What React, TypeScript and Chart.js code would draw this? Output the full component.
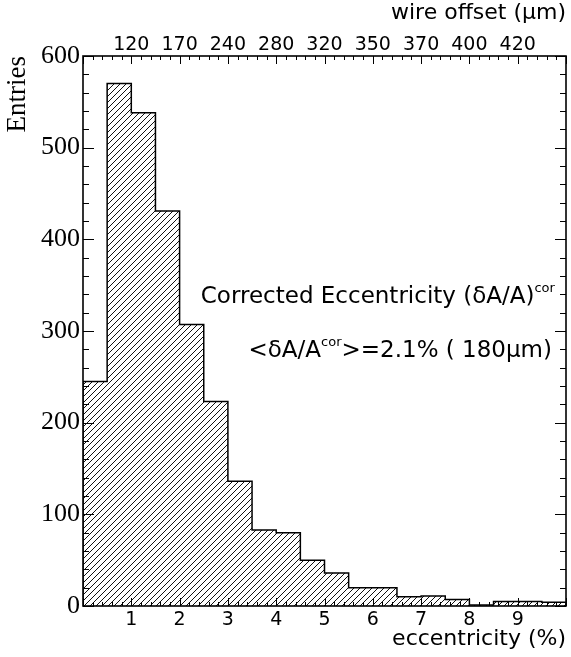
import { useEffect, useRef } from 'react';
import { Chart, registerables } from 'chart.js';

Chart.register(...registerables);

// Corrected wire eccentricity histogram, 0.5 % wide bins
const binLowEdges = [0, 0.5, 1, 1.5, 2, 2.5, 3, 3.5, 4, 4.5, 5, 5.5, 6, 6.5, 7, 7.5, 8, 8.5, 9, 9.5];
const binUpperEdge = 10;
const entries = [245, 570, 538, 431, 307, 223, 136, 83, 80, 50, 36, 20, 20, 10, 11, 7, 1, 5, 5, 4];

// Axis labelling
const eccentricityTicks = [1, 2, 3, 4, 5, 6, 7, 8, 9];
const wireOffsetLabels = ['120', '170', '240', '280', '320', '350', '370', '400', '420'];
const entriesTicks = [0, 100, 200, 300, 400, 500, 600];

const SANS = '"DejaVu Sans", sans-serif';
const SERIF = '"Liberation Serif", "Times New Roman", serif';

function makeHatch(): CanvasPattern | string {
  const size = 6;
  const c = document.createElement('canvas');
  c.width = size;
  c.height = size;
  const g = c.getContext('2d');
  if (!g) return '#fff';
  g.fillStyle = '#fff';
  g.fillRect(0, 0, size, size);
  g.strokeStyle = '#111';
  g.lineWidth = 1;
  g.beginPath();
  g.moveTo(0, size);
  g.lineTo(size, 0);
  g.moveTo(-1, 1);
  g.lineTo(1, -1);
  g.moveTo(size - 1, size + 1);
  g.lineTo(size + 1, size - 1);
  g.stroke();
  return g.createPattern(c, 'repeat') || '#fff';
}

// Frame with inward-pointing major/minor ticks on all four sides
const frameTicks = {
  id: 'frameTicks',
  afterDatasetsDraw(chart: any) {
    const { ctx, chartArea: a, scales } = chart;
    const xs = scales.x;
    const ys = scales.y;
    ctx.save();
    ctx.strokeStyle = '#000';
    ctx.lineWidth = 1;
    ctx.beginPath();
    for (let i = 0; i <= 50; i++) {
      const px = Math.round(xs.getPixelForValue(i * 0.2)) + 0.5;
      const len = i % 5 === 0 ? 8 : 4;
      ctx.moveTo(px, a.bottom);
      ctx.lineTo(px, a.bottom - len);
      ctx.moveTo(px, a.top);
      ctx.lineTo(px, a.top + len);
    }
    for (let i = 0; i <= 30; i++) {
      const py = Math.round(ys.getPixelForValue(i * 20)) + 0.5;
      const len = i % 5 === 0 ? 11 : 6;
      ctx.moveTo(a.left, py);
      ctx.lineTo(a.left + len, py);
      ctx.moveTo(a.right, py);
      ctx.lineTo(a.right - len, py);
    }
    ctx.stroke();
    ctx.lineWidth = 1.6;
    ctx.strokeRect(a.left, a.top, a.right - a.left, a.bottom - a.top);
    ctx.restore();
  },
};

type Part = { text: string; sup?: boolean };

function drawRich(ctx: CanvasRenderingContext2D, parts: Part[], right: number, baseline: number) {
  const mainFont = `23px ${SANS}`;
  const supFont = `13px ${SANS}`;
  const widths = parts.map((p) => {
    ctx.font = p.sup ? supFont : mainFont;
    return ctx.measureText(p.text).width;
  });
  let x = right - widths.reduce((s, w) => s + w, 0);
  parts.forEach((p, i) => {
    ctx.font = p.sup ? supFont : mainFont;
    ctx.fillText(p.text, x, p.sup ? baseline - 11 : baseline);
    x += widths[i];
  });
}

// Legend-style annotation inside the frame
const annotation = {
  id: 'annotation',
  afterDraw(chart: any) {
    const { ctx, scales } = chart;
    const xs = scales.x;
    const ys = scales.y;
    ctx.save();
    ctx.fillStyle = '#000';
    ctx.textAlign = 'left';
    ctx.textBaseline = 'alphabetic';
    drawRich(
      ctx,
      [{ text: 'Corrected Eccentricity (δA/A)' }, { text: 'cor', sup: true }],
      xs.getPixelForValue(9.77),
      ys.getPixelForValue(331)
    );
    drawRich(
      ctx,
      [{ text: '<δA/A' }, { text: 'cor', sup: true }, { text: '>=2.1% ( 180μm)' }],
      xs.getPixelForValue(9.71),
      ys.getPixelForValue(272)
    );
    ctx.restore();
  },
};

export default function App() {
  const canvasRef = useRef<HTMLCanvasElement>(null);

  useEffect(() => {
    document.body.style.margin = '0';
    const canvas = canvasRef.current;
    if (!canvas) return;

    const outline = [
      { x: binLowEdges[0], y: 0 },
      ...binLowEdges.map((x, i) => ({ x, y: entries[i] })),
      { x: binUpperEdge, y: entries[entries.length - 1] },
      { x: binUpperEdge, y: 0 },
    ];

    const chart = new Chart(canvas, {
      type: 'line',
      data: {
        datasets: [
          {
            data: outline,
            stepped: 'before',
            fill: 'origin',
            backgroundColor: makeHatch(),
            borderColor: '#000',
            borderWidth: 1.5,
            pointRadius: 0,
            tension: 0,
          } as any,
        ],
      },
      options: {
        animation: false,
        responsive: false,
        devicePixelRatio: 1,
        layout: { padding: { left: 0, right: 5, top: 0, bottom: 0 } },
        plugins: { legend: { display: false }, tooltip: { enabled: false } },
        scales: {
          x: {
            type: 'linear',
            position: 'bottom',
            min: 0,
            max: binUpperEdge,
            grid: { display: false, drawTicks: false },
            border: { display: false },
            afterBuildTicks: (s: any) => {
              s.ticks = eccentricityTicks.map((v) => ({ value: v }));
            },
            afterFit: (s: any) => {
              s.height = 51;
            },
            ticks: {
              color: '#000',
              font: { family: SANS, size: 19 },
              padding: 3,
              maxRotation: 0,
              autoSkip: false,
              callback: (v: any) => String(v),
            },
            title: {
              display: true,
              text: 'eccentricity (%)',
              align: 'end',
              color: '#000',
              font: { family: SANS, size: 22 },
              padding: { top: 0, bottom: 5 },
            },
          },
          xTop: {
            type: 'linear',
            position: 'top',
            min: 0,
            max: binUpperEdge,
            grid: { display: false, drawTicks: false },
            border: { display: false },
            afterBuildTicks: (s: any) => {
              s.ticks = eccentricityTicks.map((v) => ({ value: v }));
            },
            afterFit: (s: any) => {
              s.height = 56;
            },
            ticks: {
              color: '#000',
              font: { family: SANS, size: 19 },
              padding: 0,
              maxRotation: 0,
              autoSkip: false,
              callback: (v: any) => wireOffsetLabels[eccentricityTicks.indexOf(Number(v))] ?? '',
            },
            title: {
              display: true,
              text: 'wire offset (μm)',
              align: 'end',
              color: '#000',
              font: { family: SANS, size: 22 },
              padding: { top: 0, bottom: 0 },
            },
          },
          y: {
            type: 'linear',
            min: 0,
            max: 600,
            grid: { display: false, drawTicks: false },
            border: { display: false },
            afterBuildTicks: (s: any) => {
              s.ticks = entriesTicks.map((v) => ({ value: v }));
            },
            afterFit: (s: any) => {
              s.width = 83;
            },
            ticks: {
              color: '#000',
              font: { family: SERIF, size: 26 },
              padding: 3,
              autoSkip: false,
            },
            title: {
              display: true,
              text: 'Entries',
              align: 'end',
              color: '#000',
              font: { family: SERIF, size: 27 },
              padding: { top: 2, bottom: 0 },
            },
          },
        },
      } as any,
      plugins: [frameTicks, annotation],
    });

    return () => chart.destroy();
  }, []);

  return (
    <div style={{ width: 571, height: 657 }}>
      <canvas ref={canvasRef} width={571} height={657} style={{ display: 'block' }} />
    </div>
  );
}
